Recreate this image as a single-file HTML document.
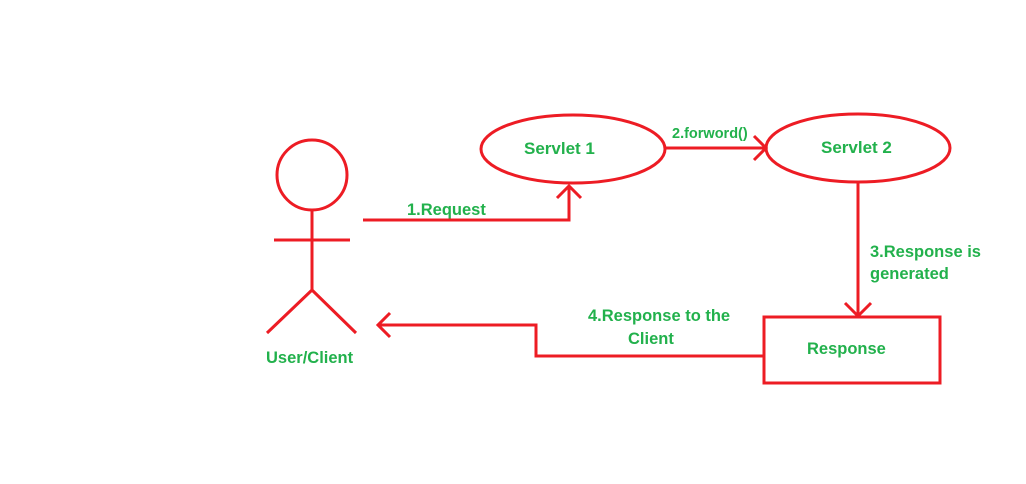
<!DOCTYPE html>
<html><head><meta charset="utf-8"><style>
html,body{margin:0;padding:0;background:#fff;}
svg{display:block}
text{font-family:"Liberation Sans",sans-serif;font-weight:bold;fill:#22b14c;font-size:16.5px}
</style></head><body>
<svg width="1026" height="484" viewBox="0 0 1026 484" xmlns="http://www.w3.org/2000/svg">
<g stroke="#ed1c24" stroke-width="3" fill="none">
<circle cx="312" cy="175" r="35"/>
<line x1="312" y1="210" x2="312" y2="290"/>
<line x1="274" y1="240" x2="350" y2="240"/>
<polyline points="267,333 312,290 356,333"/>
<polyline points="363,220 569,220 569,186"/>
<polyline points="557,198 569,186 581,198"/>
<ellipse cx="573" cy="149" rx="92" ry="34"/>
<line x1="665" y1="148" x2="766" y2="148"/>
<polyline points="754,136 766,148 754,160"/>
<ellipse cx="858" cy="148" rx="92" ry="34"/>
<line x1="858" y1="182" x2="858" y2="316"/>
<polyline points="845,303 858,316 871,303"/>
<rect x="764" y="317" width="176" height="66"/>
<polyline points="764,356 536,356 536,325 378,325"/>
<polyline points="390,313 378,325 390,337"/>
</g>
<text x="524" y="154" style="font-size:17px">Servlet 1</text>
<text x="821" y="153" style="font-size:17px">Servlet 2</text>
<text x="407" y="215">1.Request</text>
<text x="672" y="138" style="font-size:14.5px">2.forword()</text>
<text x="870" y="257">3.Response is</text>
<text x="870" y="279">generated</text>
<text x="588" y="321">4.Response to the</text>
<text x="628" y="344">Client</text>
<text x="807" y="354">Response</text>
<text x="266" y="363">User/Client</text>
</svg>
</body></html>
